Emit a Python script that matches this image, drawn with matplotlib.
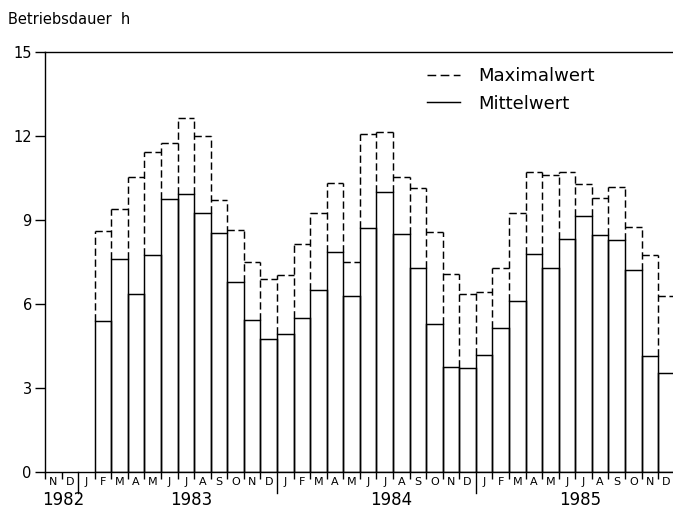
import numpy as np
import matplotlib
matplotlib.use('Agg')
import matplotlib.pyplot as plt
import matplotlib.transforms as mtransforms

plt.rcParams['font.family'] = ['DejaVu Sans']

# month labels from Nov 1982 to Dec 1985
months = ['N', 'D'] + ['J', 'F', 'M', 'A', 'M', 'J', 'J', 'A', 'S', 'O', 'N', 'D'] * 3
years = ['1982', '1983', '1984', '1985']
year_pos = [1.1, 8.8, 20.9, 32.3]

# data starts with Feb 1983 (index 3)
first = 3
maximal = [8.6, 9.4, 10.55, 11.45, 11.75, 12.65, 12.0, 9.7, 8.65, 7.5, 6.9,
           7.05, 8.15, 9.27, 10.34, 7.5, 12.08, 12.15, 10.55, 10.14, 8.57, 7.07, 6.37,
           6.42, 7.3, 9.25, 10.73, 10.6, 10.73, 10.28, 9.78, 10.18, 8.74, 7.75, 6.3]
mittel = [5.39, 7.61, 6.35, 7.74, 9.77, 9.92, 9.27, 8.54, 6.8, 5.42, 4.74,
          4.93, 5.49, 6.5, 7.87, 6.3, 8.72, 10.01, 8.5, 7.28, 5.28, 3.74, 3.72,
          4.17, 5.13, 6.12, 7.79, 7.3, 8.31, 9.15, 8.48, 8.29, 7.22, 4.14, 3.52]

x = np.arange(len(mittel)) + first
dash = (0, (5, 2.5))
lw = 1.05

fig = plt.figure(figsize=(6.73, 5.19), dpi=100)
ax = fig.add_axes([45 / 673, 47.3 / 519, 629.7 / 673, 419.4 / 519])

# solid bars for Mittelwert
ax.bar(x, mittel, width=1, align='edge', fill=False, edgecolor='black', linewidth=lw)

# dashed outline for Maximalwert
ax.hlines(maximal, x, x + 1, colors='black', linewidth=lw, linestyles=[dash])
n = len(mittel)
for k in range(n + 1):
    idx = [i for i in (k - 1, k) if 0 <= i < n]
    top = max(maximal[i] for i in idx)
    bot = max(mittel[i] for i in idx)
    ax.vlines(first + k, bot, top, colors='black', linewidth=lw, linestyles=[dash])

ax.set_xlim(0, len(months))
ax.set_ylim(0, 15)
ax.spines['right'].set_visible(False)
for s in ['left', 'bottom', 'top']:
    ax.spines[s].set_linewidth(1.0)

ax.set_yticks([0, 3, 6, 9, 12, 15])
ax.tick_params(axis='y', direction='out', length=7, width=1, pad=2.5, labelsize=10.5)

# month letters centered, boundary ticks as minor ticks
ax.set_xticks(np.arange(len(months)) + 0.5)
ax.set_xticklabels(months, fontsize=8)
ax.tick_params(axis='x', which='major', length=0, pad=4)
bounds = [b for b in range(0, len(months)) if b not in (2, 14, 26)]
ax.set_xticks(bounds, minor=True)
ax.tick_params(axis='x', which='minor', direction='out', length=5, width=1)
for b in (2, 14, 26):
    ax.plot([b, b], [0, -0.75], color='black', linewidth=1, clip_on=False)

trans = mtransforms.blended_transform_factory(ax.transData, fig.transFigure)
for yl, xp in zip(years, year_pos):
    ax.text(xp, 1 - 500 / 519, yl, transform=trans, ha='center', va='center', fontsize=12)

fig.text(8 / 673, 1 - 24 / 519, 'Betriebsdauer  h', fontsize=10.5, va='baseline', ha='left')

# legend drawn by hand
fig.add_artist(plt.Line2D([427 / 673, 460 / 673], [1 - 75 / 519] * 2, color='black',
                          linewidth=lw, linestyle=(0, (6, 3))))
fig.add_artist(plt.Line2D([427 / 673, 460 / 673], [1 - 101.5 / 519] * 2, color='black',
                          linewidth=lw))
fig.text(478 / 673, 1 - 80.7 / 519, 'Maximalwert', fontsize=13, va='baseline')
fig.text(478 / 673, 1 - 109.3 / 519, 'Mittelwert', fontsize=13, va='baseline')

fig.savefig('out.png', dpi=100)
